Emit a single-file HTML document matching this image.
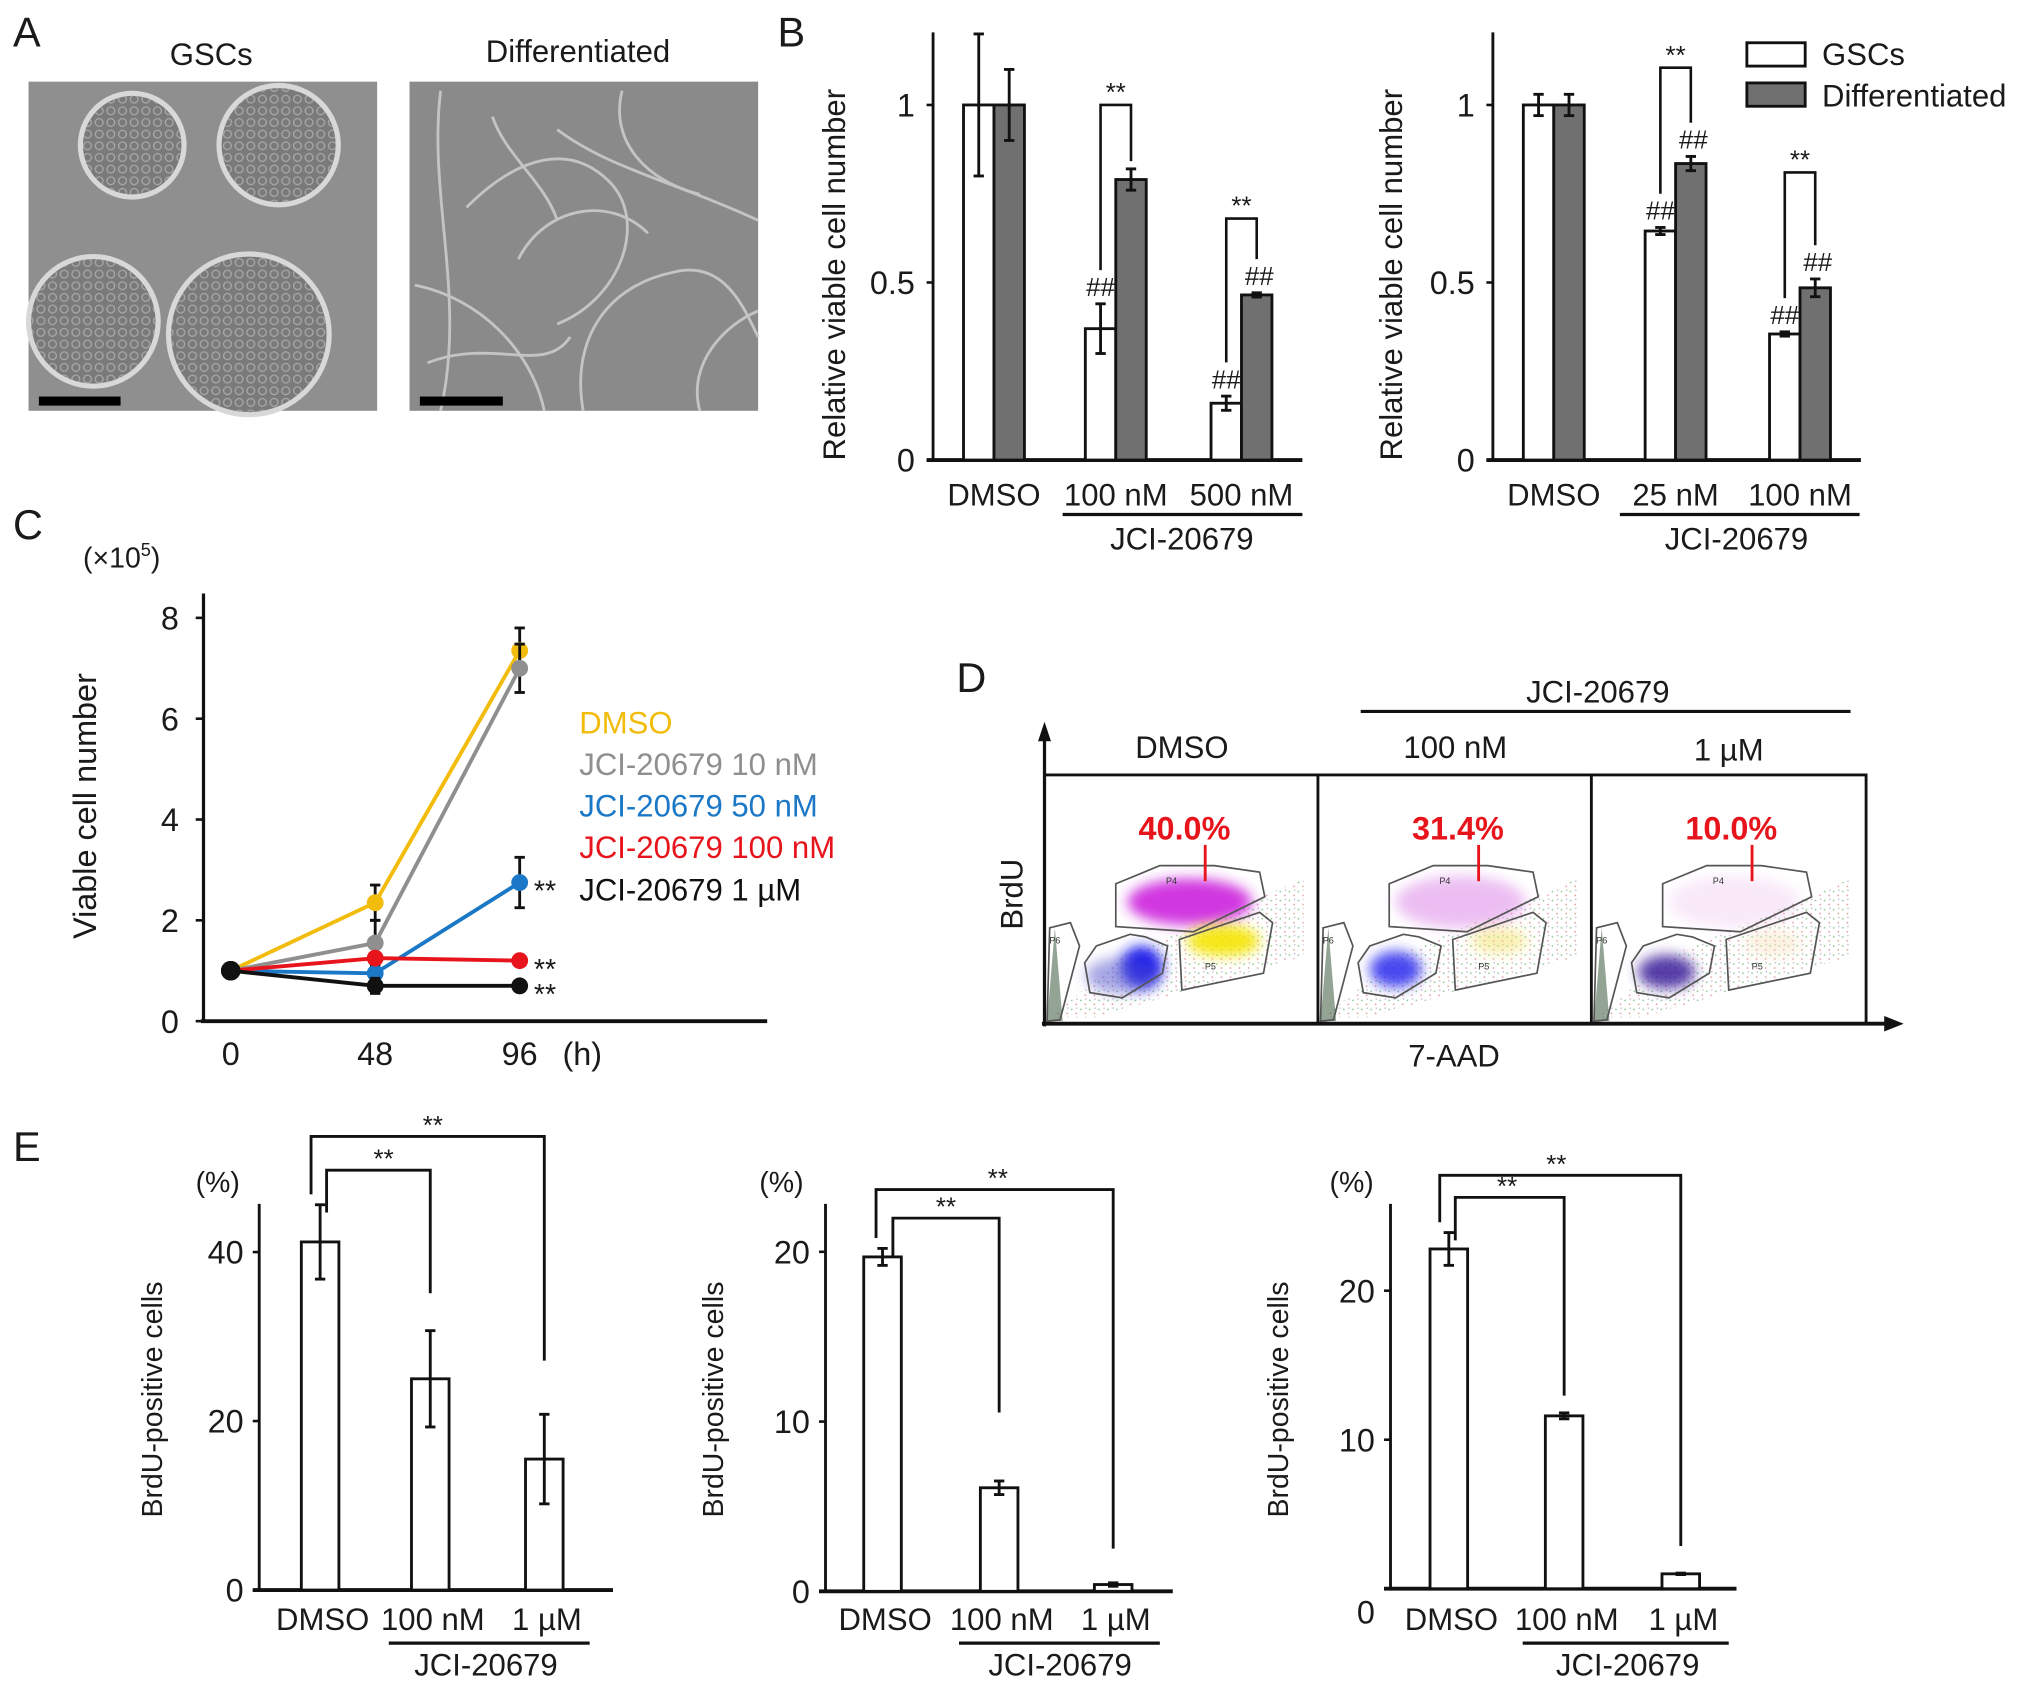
<!DOCTYPE html>
<html><head><meta charset="utf-8"><style>
html,body{margin:0;padding:0;background:#fff;}
svg{display:block;}
text{font-family:"Liberation Sans",Arial,sans-serif;fill:#1a1a1a;}
</style></head><body>
<svg id="fig" width="2032" height="1688" viewBox="0 0 1568 1302.6" xmlns="http://www.w3.org/2000/svg">
<defs>
<filter id="blur4" x="-50%" y="-50%" width="200%" height="200%"><feGaussianBlur stdDeviation="5"/></filter>
<filter id="blur2"><feGaussianBlur stdDeviation="1.5"/></filter>
<pattern id="cells" width="9" height="9" patternUnits="userSpaceOnUse"><circle cx="4.5" cy="4.5" r="3" fill="none" stroke="#a8a8a8" stroke-width="1"/></pattern>
<pattern id="speck" width="7" height="7" patternUnits="userSpaceOnUse"><circle cx="1" cy="2" r="0.7" fill="#5a5"/><circle cx="4.5" cy="5" r="0.7" fill="#c66"/><circle cx="5" cy="1" r="0.6" fill="#88a"/></pattern>
</defs>
<g id="panelA">
<text x="10" y="36" font-size="32">A</text>
<text x="163" y="50" font-size="24" text-anchor="middle">GSCs</text>
<text x="446" y="48" font-size="24" text-anchor="middle">Differentiated</text>
<g>
<rect x="22" y="63" width="269" height="254" fill="#8f8f8f"/>
<g stroke="#d8d8d8" stroke-width="4" fill="#7a7a7a">
<circle cx="102" cy="112" r="40"/><circle cx="215" cy="112" r="46"/><circle cx="72" cy="248" r="50"/><circle cx="192" cy="258" r="62"/>
</g>
<g fill="url(#cells)"><circle cx="102" cy="112" r="38"/><circle cx="215" cy="112" r="44"/><circle cx="72" cy="248" r="48"/><circle cx="192" cy="258" r="60"/></g>
<rect x="30" y="306" width="63" height="7" fill="#000"/>
</g>
<g>
<rect x="316" y="63" width="269" height="254" fill="#8a8a8a"/>
<g fill="none" stroke="#c4c4c4" stroke-width="2.2">
<path d="M340 70 C330 150 360 230 340 317"/><path d="M360 160 C400 120 440 110 470 140 C500 170 480 230 430 250"/>
<path d="M400 200 C420 160 470 150 500 180"/><path d="M430 100 C470 130 520 140 585 170"/>
<path d="M450 317 C440 260 470 220 520 210 C560 200 575 240 585 260"/><path d="M320 220 C370 230 410 270 420 317"/>
<path d="M480 70 C470 110 500 140 540 150"/><path d="M540 317 C530 280 560 250 585 240"/>
<path d="M330 280 C380 260 420 290 440 260"/><path d="M380 90 C390 120 420 140 430 170"/>
</g>
<rect x="324" y="306" width="64" height="7" fill="#000"/>
</g>
</g>
<g id="panelB">
<text x="600" y="36" font-size="32">B</text>
</g>
<g id="panelC">
<text x="10" y="416" font-size="32">C</text>
</g>
<g id="panelD">
<text x="738" y="534" font-size="32">D</text>
</g>
<g id="panelE">
<text x="10" y="896" font-size="32">E</text>
</g>
</svg>
<script>
// ---------- Panel B data ----------
const bCatsL = ['DMSO', '100 nM', '500 nM'];
const bGscL = [1, 0.37, 0.16];
const bGscErrL = [0.2, 0.07, 0.02];
const bDiffL = [1, 0.79, 0.465];
const bDiffErrL = [0.1, 0.03, 0.006];
const bBracketL = [null, 1.0, 0.68];
const bGscHashL = [0, 1, 1];
const bDiffHashL = [0, 0, 1];
const bCatsR = ['DMSO', '25 nM', '100 nM'];
const bGscR = [1, 0.645, 0.355];
const bGscErrR = [0.03, 0.01, 0.006];
const bDiffR = [1, 0.835, 0.485];
const bDiffErrR = [0.03, 0.02, 0.025];
const bBracketR = [null, 1.105, 0.81];
const bGscHashR = [0, 1, 1];
const bDiffHashR = [0, 1, 1];
const bTicks = [0, 0.5, 1];
const bTickLabels = ['0', '0.5', '1'];
// ---------- Panel C data ----------
const cTimes = [0, 48, 96];
const cTickLabels = ['0', '48', '96'];
const cYTicks = [0, 2, 4, 6, 8];
const cNames = ['DMSO', 'JCI-20679 10 nM', 'JCI-20679 50 nM', 'JCI-20679 100 nM', 'JCI-20679 1 \u00b5M'];
const cDmso = [1, 2.35, 7.35];
const cDmsoErr = [0, 0.35, 0.45];
const c10 = [1, 1.55, 7.0];
const c10Err = [0, 0.45, 0.48];
const c50 = [1, 0.95, 2.75];
const c50Err = [0, 0.05, 0.5];
const c100 = [1, 1.25, 1.2];
const c100Err = [0, 0.05, 0.05];
const c1u = [1, 0.7, 0.7];
const c1uErr = [0, 0.15, 0.05];
const cSig = ['', '', '**', '**', '**'];
// ---------- Panel D data ----------
const dConds = ['DMSO', '100 nM', '1 \u00b5M'];
const dPercent = ['40.0%', '31.4%', '10.0%'];
// ---------- Panel E data ----------
const eCats = ['DMSO', '100 nM', '1 \u00b5M'];
const e1Vals = [41.2, 25, 15.5];
const e1Err = [4.4, 5.7, 5.3];
const e1Ticks = [0, 20, 40];
const e2Vals = [19.7, 6.1, 0.4];
const e2Err = [0.5, 0.4, 0.1];
const e2Ticks = [0, 10, 20];
const e3Vals = [22.8, 11.6, 1.0];
const e3Err = [1.1, 0.2, 0.05];
const e3Ticks = [0, 10, 20];

const NS = 'http://www.w3.org/2000/svg';
function mk(tag, parent, attrs, name) {
  const el = document.createElementNS(NS, tag);
  for (const k in attrs) el.setAttribute(k, attrs[k]);
  
  
  parent.appendChild(el);
  return el;
}
function line(p, x1, y1, x2, y2, w, c, name) {
  return mk('line', p, {x1: x1, y1: y1, x2: x2, y2: y2, stroke: c || '#111', 'stroke-width': w || 2}, name);
}
function txt(p, x, y, s, size, anchor, name, extra) {
  const a = {x: x, y: y, 'font-size': size, 'text-anchor': anchor || 'middle'};
  if (extra) for (const k in extra) a[k] = extra[k];
  const t = mk('text', p, a, name);
  t.textContent = s;
  return t;
}
function errbar(p, x, yTop, yBot, cap, name) {
  const g = mk('g', p, {}, name);
  line(g, x, yTop, x, yBot, 2.2, '#111', name + '-stem');
  line(g, x - cap, yTop, x + cap, yTop, 2.2, '#111', name + '-cap-top');
  line(g, x - cap, yBot, x + cap, yBot, 2.2, '#111', name + '-cap-bottom');
  return g;
}

// ---------- Panel B ----------
function drawB(prefix, axX, xEnd, centers, cats, gsc, gscErr, diff, diffErr, brk, gHash, dHash, ulX1, ulX2, jciX, labX) {
  const g = mk('g', document.getElementById('panelB'), {}, prefix + '-chart');
  const y0 = 355, k = 274;
  const yB = v => y0 - k * v;
  const bw = 23.5;
  line(g, axX, 25, axX, y0 + 1, 2.2, '#111', prefix + '-y-axis');
  line(g, axX - 5, y0, xEnd, y0, 3, '#111', prefix + '-x-axis');
  bTicks.forEach((t, i) => {
    line(g, axX - 5, yB(t), axX, yB(t), 2, '#111', prefix + '-y-tick');
    txt(g, axX - 14, yB(t) + 9, bTickLabels[i], 25, 'end', prefix + '-y-tick-label');
  });
  const yl = txt(g, 0, 0, 'Relative viable cell number', 24, 'middle', prefix + '-y-axis-title');
  yl.setAttribute('transform', 'translate(' + labX + ',212) rotate(-90)');
  cats.forEach((c, i) => {
    const cx = centers[i];
    mk('rect', g, {x: cx - bw, y: yB(gsc[i]), width: bw, height: k * gsc[i], fill: '#fff', stroke: '#111', 'stroke-width': 2.2}, prefix + '-bar-gscs-' + i);
    mk('rect', g, {x: cx, y: yB(diff[i]), width: bw, height: k * diff[i], fill: '#707070', stroke: '#111', 'stroke-width': 2.2}, prefix + '-bar-differentiated-' + i);
    const gx = cx - bw / 2, dx = cx + bw / 2;
    errbar(g, gx, yB(gsc[i] + gscErr[i]), yB(gsc[i] - gscErr[i]), 4, prefix + '-err-gscs-' + i);
    errbar(g, dx, yB(diff[i] + diffErr[i]), yB(diff[i] - diffErr[i]), 4, prefix + '-err-differentiated-' + i);
    txt(g, cx, 390, c, 24, 'middle', prefix + '-x-label');
    const gTop = yB(gsc[i] + gscErr[i]), dTop = yB(diff[i] + diffErr[i]);
    if (gHash[i]) txt(g, gx, gTop - 6, '##', 20, 'middle', prefix + '-hash-gscs');
    if (dHash[i]) txt(g, dx + 2, dTop - 6, '##', 20, 'middle', prefix + '-hash-differentiated');
    if (brk[i] !== null) {
      const by = yB(brk[i]);
      const gEnd = gTop - (gHash[i] ? 26 : 6);
      const dEnd = dTop - (dHash[i] ? 26 : 6);
      mk('path', g, {d: 'M' + gx + ' ' + gEnd + ' V' + by + ' H' + dx + ' V' + dEnd, fill: 'none', stroke: '#111', 'stroke-width': 2}, prefix + '-sig-bracket');
      txt(g, cx, by - 3, '**', 20, 'middle', prefix + '-sig-label');
    }
  });
  line(g, ulX1, 397, ulX2, 397, 2.5, '#111', prefix + '-jci-underline');
  txt(g, jciX, 424, 'JCI-20679', 24, 'middle', prefix + '-jci-label');
}
drawB('b-left', 720, 1005, [767, 861, 958], bCatsL, bGscL, bGscErrL, bDiffL, bDiffErrL, bBracketL, bGscHashL, bDiffHashL, 820, 1005, 912, 652);
drawB('b-right', 1152, 1436, [1199, 1293, 1389], bCatsR, bGscR, bGscErrR, bDiffR, bDiffErrR, bBracketR, bGscHashR, bDiffHashR, 1250, 1435, 1340, 1082);
(function () {
  const g = mk('g', document.getElementById('panelB'), {}, 'b-legend');
  mk('rect', g, {x: 1348, y: 33, width: 45, height: 18, fill: '#fff', stroke: '#111', 'stroke-width': 2.2}, 'legend-swatch-gscs');
  txt(g, 1406, 50, 'GSCs', 24, 'start', 'legend-label-gscs');
  mk('rect', g, {x: 1348, y: 64, width: 45, height: 18, fill: '#707070', stroke: '#111', 'stroke-width': 2.2}, 'legend-swatch-differentiated');
  txt(g, 1406, 82, 'Differentiated', 24, 'start', 'legend-label-differentiated');
})();

// ---------- Panel C ----------
(function () {
  const g = mk('g', document.getElementById('panelC'), {}, 'c-chart');
  const xC = t => 178 + t * (223 / 96);
  const yC = v => 788 - 38.9 * v;
  line(g, 157, 458, 157, 789, 2.5, '#111', 'c-y-axis');
  line(g, 155, 788, 592, 788, 3, '#111', 'c-x-axis');
  cYTicks.forEach(t => {
    line(g, 151, yC(t), 157, yC(t), 2, '#111', 'c-y-tick');
    txt(g, 138, yC(t) + 9, String(t), 25, 'end', 'c-y-tick-label');
  });
  cTimes.forEach((t, i) => txt(g, xC(t), 822, cTickLabels[i], 25, 'middle', 'c-x-tick-label'));
  txt(g, 434, 822, '(h)', 25, 'start', 'c-x-unit');
  const u = txt(g, 64, 438, '(\u00d710', 22, 'start', 'c-y-unit');
  const sup = document.createElementNS(NS, 'tspan');
  sup.setAttribute('dy', '-9'); sup.setAttribute('font-size', '14'); sup.textContent = '5';
  u.appendChild(sup);
  const cl = document.createElementNS(NS, 'tspan');
  cl.setAttribute('dy', '9'); cl.textContent = ')';
  u.appendChild(cl);
  const yl = txt(g, 0, 0, 'Viable cell number', 25, 'middle', 'c-y-axis-title');
  yl.setAttribute('transform', 'translate(74,622) rotate(-90)');
  const series = [[cDmso, cDmsoErr, '#f2bc0c'], [c10, c10Err, '#8f8f8f'], [c50, c50Err, '#1b78c6'], [c100, c100Err, '#e8141c'], [c1u, c1uErr, '#111']];
  const legendY = [566, 598, 630, 662, 695];
  series.forEach((s, si) => {
    const sg = mk('g', g, {}, 'c-series-' + si);
    const pts = cTimes.map((t, i) => xC(t) + ',' + yC(s[0][i])).join(' ');
    mk('polyline', sg, {points: pts, fill: 'none', stroke: s[2], 'stroke-width': 3}, 'c-line-' + si);
    cTimes.forEach((t, i) => {
      if (s[1][i] > 0) errbar(sg, xC(t), yC(s[0][i] + s[1][i]), yC(s[0][i] - s[1][i]), 4, 'c-err-' + si);
      mk('circle', sg, {cx: xC(t), cy: yC(s[0][i]), r: i === 0 ? 7.5 : 6.5, fill: s[2]}, 'c-point-' + si);
    });
    txt(g, 447, legendY[si], cNames[si], 24, 'start', 'c-legend-entry-' + si, {style: 'fill:' + s[2]});
    if (cSig[si]) txt(g, 412, yC(s[0][2]) + 14, cSig[si], 22, 'start', 'c-sig-' + si);
  });
  const last = series[4];
  mk('circle', g, {cx: xC(0), cy: yC(last[0][0]), r: 7.5, fill: '#111'}, 'c-point-origin');
})();

// ---------- Panel D ----------
(function () {
  const g = mk('g', document.getElementById('panelD'), {}, 'd-plots');
  const x0s = [806, 1017, 1228];
  const top = 598, bot = 790;
  const gates = {
    P4: [[55, 84], [89, 70], [131, 70], [166, 75], [170, 94], [115, 121], [55, 117]],
    P5: [[104, 127], [166, 106], [176, 114], [169, 153], [106, 166]],
    P3: [[31, 145], [40, 132], [66, 123], [78, 125], [95, 132], [91, 153], [60, 172], [35, 168]],
    P6: [[4, 118], [20, 114], [27, 132], [12, 189], [2, 190]]
  };
  const blobs = [
    [[112, 98, 48, 18, '#cc22dd', 0.9], [75, 148, 16, 16, '#1a1aee', 1], [60, 155, 28, 14, '#5050cc', 0.5], [138, 128, 28, 12, '#f5e500', 0.9]],
    [[110, 98, 50, 20, '#dd88e8', 0.55], [60, 150, 20, 14, '#2a2aee', 0.85], [140, 128, 22, 10, '#f2e060', 0.5]],
    [[110, 98, 50, 20, '#f0c8f0', 0.4], [58, 152, 22, 13, '#3a1a9a', 0.85], [140, 130, 22, 10, '#f4dcb0', 0.4]]
  ];
  x0s.forEach((x0, pi) => {
    const pg = mk('g', g, {}, 'd-plot-' + pi);
    mk('path', pg, {d: 'M' + (x0 + 5) + ' ' + (bot - 5) + ' L' + (x0 + 60) + ' ' + (top + 140) + ' L' + (x0 + 200) + ' ' + (top + 80) + ' L' + (x0 + 200) + ' ' + (top + 140) + ' L' + (x0 + 40) + ' ' + (bot - 5) + 'Z', fill: 'url(#speck)', opacity: 0.6}, 'd-scatter-background');
    blobs[pi].forEach(b => mk('ellipse', pg, {cx: x0 + b[0], cy: top + b[1], rx: b[2], ry: b[3], fill: b[4], opacity: b[5], filter: 'url(#blur4)'}, 'd-density-cloud'));
    mk('path', pg, {d: 'M' + (x0 + 2) + ' ' + (bot - 2) + ' L' + (x0 + 8) + ' ' + (top + 118) + ' L' + (x0 + 14) + ' ' + (bot - 2) + 'Z', fill: '#2a4a2a', opacity: 0.5}, 'd-debris');
    Object.keys(gates).forEach(k => {
      mk('polygon', pg, {points: gates[k].map(p => (x0 + p[0]) + ',' + (top + p[1])).join(' '), fill: 'none', stroke: '#555', 'stroke-width': 1.3}, 'd-gate-' + k.toLowerCase());
    });
    txt(pg, x0 + 98, top + 84, 'P4', 7, 'middle', 'd-gate-label', {style: 'fill:#333'});
    txt(pg, x0 + 128, top + 150, 'P5', 7, 'middle', 'd-gate-label', {style: 'fill:#333'});
    txt(pg, x0 + 8, top + 130, 'P6', 7, 'middle', 'd-gate-label', {style: 'fill:#333'});
    txt(pg, x0 + 108, top + 50, dPercent[pi], 25, 'middle', 'd-percent-' + pi, {'font-weight': 'bold', style: 'fill:#e8141c'});
    line(pg, x0 + 124, top + 54, x0 + 124, top + 82, 2.2, '#e8141c', 'd-percent-pointer');
    txt(g, x0 + 106, pi === 2 ? 587 : 585, dConds[pi], 24, 'middle', 'd-condition-label-' + pi);
  });
  mk('rect', g, {x: 806, y: 598, width: 634, height: 192, fill: 'none', stroke: '#111', 'stroke-width': 2.2}, 'd-frame');
  line(g, 1017, 598, 1017, 790, 2.2, '#111', 'd-divider');
  line(g, 1228, 598, 1228, 790, 2.2, '#111', 'd-divider');
  line(g, 806, 792, 806, 570, 2.5, '#111', 'd-y-arrow');
  mk('polygon', g, {points: '801,572 806,557 811,572', fill: '#111'}, 'd-y-arrowhead');
  line(g, 804, 790, 1456, 790, 3, '#111', 'd-x-arrow');
  mk('polygon', g, {points: '1454,784 1469,790 1454,796', fill: '#111'}, 'd-x-arrowhead');
  line(g, 1050, 549, 1428, 549, 2.5, '#111', 'd-jci-line');
  txt(g, 1233, 542, 'JCI-20679', 24, 'middle', 'd-jci-label');
  const yl = txt(g, 0, 0, 'BrdU', 24, 'middle', 'd-y-axis-title');
  yl.setAttribute('transform', 'translate(789,690) rotate(-90)');
  txt(g, 1122, 823, '7-AAD', 24, 'middle', 'd-x-axis-title');
})();

// ---------- Panel E ----------
function drawE(prefix, axX, xEnd, y0, k, ticks, vals, errs, centers, bw, outerY, innerY, leftX1, leftX2, outerEnd, innerEnd, outerStarX, innerStarX, pctX, ylX, ulX1, ulX2, jciX, zeroDy) {
  const g = mk('g', document.getElementById('panelE'), {}, prefix + '-chart');
  const yE = v => y0 - k * v;
  line(g, axX, 929, axX, y0 + 1, 2.2, '#111', prefix + '-y-axis');
  line(g, axX - 5, y0, xEnd, y0, 3, '#111', prefix + '-x-axis');
  ticks.forEach(t => {
    line(g, axX - 5, yE(t), axX, yE(t), 2, '#111', prefix + '-y-tick');
    txt(g, axX - 12, yE(t) + 9 + (t === 0 ? zeroDy : 0), String(t), 25, 'end', prefix + '-y-tick-label');
  });
  txt(g, pctX, 920, '(%)', 22, 'middle', prefix + '-y-unit');
  const yl = txt(g, 0, 0, 'BrdU-positive cells', 22, 'middle', prefix + '-y-axis-title');
  yl.setAttribute('transform', 'translate(' + ylX + ',1080) rotate(-90)');
  eCats.forEach((c, i) => {
    mk('rect', g, {x: centers[i] - bw / 2, y: yE(vals[i]), width: bw, height: k * vals[i], fill: '#fff', stroke: '#111', 'stroke-width': 2.2}, prefix + '-bar-' + i);
    errbar(g, centers[i], yE(vals[i] + errs[i]), yE(vals[i] - errs[i]), 4, prefix + '-err-' + i);
    txt(g, centers[i] + 2, 1258, c, 24, 'middle', prefix + '-x-label');
  });
  mk('path', g, {d: 'M' + leftX1 + ' ' + (yE(vals[0] + errs[0]) - 8) + ' V' + outerY + ' H' + centers[2] + ' V' + outerEnd, fill: 'none', stroke: '#111', 'stroke-width': 2.2}, prefix + '-sig-bracket-outer');
  mk('path', g, {d: 'M' + leftX2 + ' ' + (yE(vals[0] + errs[0]) + 6) + ' V' + innerY + ' H' + centers[1] + ' V' + innerEnd, fill: 'none', stroke: '#111', 'stroke-width': 2.2}, prefix + '-sig-bracket-inner');
  txt(g, outerStarX, outerY - 2, '**', 20, 'middle', prefix + '-sig-outer');
  txt(g, innerStarX, innerY - 2, '**', 20, 'middle', prefix + '-sig-inner');
  line(g, ulX1, 1268, ulX2, 1268, 2.5, '#111', prefix + '-jci-underline');
  txt(g, jciX, 1293, 'JCI-20679', 24, 'middle', prefix + '-jci-label');
}
drawE('e1', 200, 473, 1227, 6.52, e1Ticks, e1Vals, e1Err, [247, 332, 420], 29, 877, 903, 240, 252, 1050, 998, 334, 296, 168, 125, 300, 455, 375, 0);
drawE('e2', 637, 905, 1228, 13.1, e2Ticks, e2Vals, e2Err, [681, 771, 859], 29, 918, 940, 676, 689, 1195, 1090, 770, 730, 603, 558, 740, 895, 818, 0);
drawE('e3', 1073, 1340, 1226, 11.5, e3Ticks, e3Vals, e3Err, [1118, 1207, 1297], 29, 907, 924, 1111, 1123, 1193, 1077, 1201, 1163, 1043, 994, 1175, 1334, 1256, 18);
</script>
</body></html>
